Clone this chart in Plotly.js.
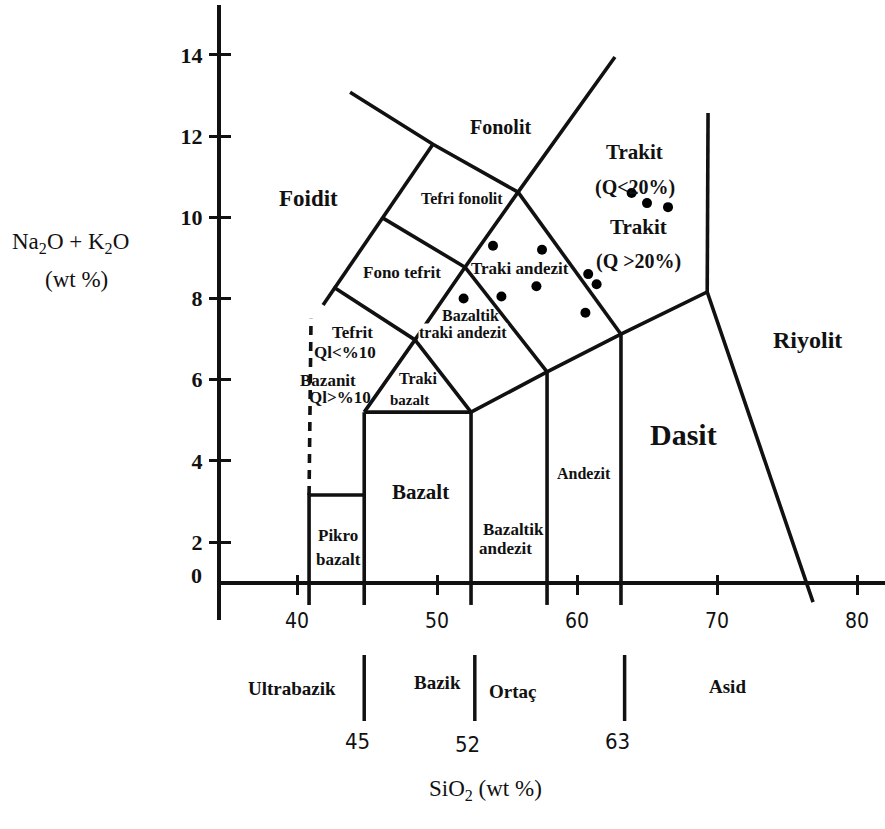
<!DOCTYPE html>
<html><head><meta charset="utf-8">
<script src="https://cdn.plot.ly/plotly-3.0.1.min.js"></script>
<style>html,body{margin:0;padding:0;background:#fff}#chart{width:885px;height:829px}</style>
</head><body><div id="chart"></div>
<script>
// ---------- data ----------
const xTickVals = [40, 50, 60, 70, 80];
const xTickText = ['40', '50', '60', '70', '80'];
const yTickVals = [2, 4, 6, 8, 10, 12, 14];
const yTickText = ['2', '4', '6', '8', '10', '12', '14'];
const yOriginLabel = '0';

const sampleSiO2   = [51.9, 54.0, 54.6, 57.1, 57.5, 60.6, 60.8, 61.4, 63.9, 65.0, 66.5];
const sampleAlkali = [8.0, 9.3, 8.05, 8.3, 9.2, 7.65, 8.6, 8.35, 10.6, 10.35, 10.25];

// field boundaries (SiO2, Na2O+K2O)
const pikroX = [40.86, 40.86, 44.8];           const pikroY = [0.45, 3.16, 3.16];
const line45X = [44.8, 44.8];                  const line45Y = [0.45, 5.2];
const bazaltTopX = [44.8, 52.43];              const bazaltTopY = [5.2, 5.2];
const trakiBazaltX = [44.8, 48.43, 52.43];     const trakiBazaltY = [5.2, 6.98, 5.2];
const line52X = [52.43, 52.43];                const line52Y = [0.45, 5.2];
const line57X = [57.86, 57.86];                const line57Y = [0.45, 6.19];
const line63X = [63.14, 63.14];                const line63Y = [0.45, 7.12];
const lowerChainX = [52.43, 57.86, 63.14, 69.3, 76.86];
const lowerChainY = [5.2, 6.19, 7.12, 8.16, 0.52];
const line69X = [69.3, 69.36];                 const line69Y = [8.16, 12.57];
const trakitBaseX = [55.79, 63.14];            const trakitBaseY = [10.62, 7.12];
const btaTaX = [52.0, 57.86];                  const btaTaY = [8.77, 6.19];
const taLeftX = [48.43, 52.0, 55.79, 62.71];   const taLeftY = [6.98, 8.77, 10.62, 13.95];
const fonolitBaseX = [43.79, 49.71, 55.79];    const fonolitBaseY = [13.08, 11.80, 10.62];
const foiditEdgeX = [41.86, 49.71];            const foiditEdgeY = [7.84, 11.80];
const tefritTopX = [42.6, 48.43];              const tefritTopY = [8.28, 6.98];
const fonoTefritTopX = [46.14, 52.0];          const fonoTefritTopY = [9.98, 8.77];
const dashed41X = [40.86, 41.0];               const dashed41Y = [3.16, 7.5];

const classBoundSiO2 = [44.8, 52.7, 63.4];
const classBoundText = ['45', '52', '63'];
const classNames = ['Ultrabazik', 'Bazik', 'Ortaç', 'Asid'];

const fieldNames = ['Foidit', 'Fonolit', 'Tefri fonolit', 'Fono tefrit', 'Traki andezit',
  'Bazaltik', 'traki andezit', 'Tefrit', 'Ql&lt;%10', 'Bazanit', 'Ql&gt;%10', 'Traki', 'bazalt',
  'Bazalt', 'Pikro', 'bazalt', 'Bazaltik', 'andezit', 'Andezit', 'Dasit', 'Riyolit',
  'Trakit', '(Q&lt;20%)', 'Trakit', '(Q &gt;20%)'];

// ---------- layout helpers ----------
const W = 885, H = 829, L = 221, R = 885, T = 5, B = 620;
const xRange = [34.57, 82.0];
const yRange = [0.079, 15.23];
const px2paperX = p => (p - L) / (R - L);
const px2paperY = p => (B - p) / (B - T);
const axisPos = (1 - yRange[0]) / (yRange[1] - yRange[0]);

const fieldPos = [[40.79,10.47],[54.5,12.22],[51.79,10.47],[47.5,8.63],[55.93,8.75],
  [52.36,7.59],[51.86,7.15],[43.93,7.17],[43.43,6.68],[42.21,5.99],[43.07,5.55],[48.64,6.04],[48.07,5.5],
  [48.79,3.23],[42.93,2.17],[42.93,1.58],[55.43,2.32],[54.86,1.83],[60.5,3.70],[67.64,4.64],[76.43,6.98],
  [64.14,11.6],[64.14,10.74],[64.36,9.76],[64.36,8.9]];
const fieldSize = [23,20,16,17,17,16,16,17,17,17,17,16,15,21,17,17,17,17,16,30,24,21,20,21,20];
const fieldBg = [0,0,0,0,0,0,1,0,0,0,0,0,0,0,0,0,0,0,0,0,0,0,0,0,0];

const SERIF = 'Liberation Serif, Times New Roman, serif';
const NARROW = 'DejaVu Sans Condensed, Liberation Sans Narrow, Liberation Sans, sans-serif';
const LC = '#111';

function seg(x, y, dash) {
  return {x: x, y: y, type: 'scatter', mode: 'lines', hoverinfo: 'skip', showlegend: false,
    line: {color: LC, width: 3.6, dash: dash || 'solid'}};
}
const traces = [
  seg(pikroX, pikroY), seg(line45X, line45Y), seg(bazaltTopX, bazaltTopY), seg(trakiBazaltX, trakiBazaltY),
  seg(line52X, line52Y), seg(line57X, line57Y), seg(line63X, line63Y), seg(lowerChainX, lowerChainY),
  seg(line69X, line69Y), seg(trakitBaseX, trakitBaseY), seg(btaTaX, btaTaY), seg(taLeftX, taLeftY),
  seg(fonolitBaseX, fonolitBaseY), seg(foiditEdgeX, foiditEdgeY), seg(tefritTopX, tefritTopY),
  seg(fonoTefritTopX, fonoTefritTopY), seg(dashed41X, dashed41Y, '9px,7px'),
  {x: sampleSiO2, y: sampleAlkali, type: 'scatter', mode: 'markers', showlegend: false, hoverinfo: 'x+y',
   marker: {color: '#000', size: 10}},
  {x: [null], y: [null], xaxis: 'x2', yaxis: 'y2', type: 'scatter', mode: 'markers', showlegend: false}
];

function ann(o) { return Object.assign({showarrow: false, xanchor: 'center', yanchor: 'middle'}, o); }
const annotations = [];
fieldNames.forEach((t, i) => {
  annotations.push(ann({x: fieldPos[i][0], y: fieldPos[i][1], xref: 'x', yref: 'y', text: '<b>' + t + '</b>',
    font: {family: SERIF, size: fieldSize[i], color: '#111'},
    bgcolor: fieldBg[i] ? '#fff' : 'rgba(0,0,0,0)', borderpad: 0}));
});
// origin label on y axis
annotations.push(ann({x: px2paperX(196), y: 1.18, xref: 'paper', yref: 'y', text: '<b>' + yOriginLabel + '</b>',
  font: {family: SERIF, size: 22, color: '#111'}}));
// axis titles
annotations.push(ann({x: px2paperX(70), y: px2paperY(243), xref: 'paper', yref: 'paper',
  text: 'Na<sub>2</sub>O + K<sub>2</sub>O', font: {family: SERIF, size: 23, color: '#111'}}));
annotations.push(ann({x: px2paperX(76), y: px2paperY(279), xref: 'paper', yref: 'paper',
  text: '(wt %)', font: {family: SERIF, size: 23, color: '#111'}}));
annotations.push(ann({x: px2paperX(485), y: px2paperY(790), xref: 'paper', yref: 'paper',
  text: 'SiO<sub>2</sub> (wt %)', font: {family: SERIF, size: 23, color: '#111'}}));
// class names below
const classPx = [[292, 688], [437, 682], [512, 691], [727, 686]];
classNames.forEach((t, i) => annotations.push(ann({x: px2paperX(classPx[i][0]), y: px2paperY(classPx[i][1]),
  xref: 'paper', yref: 'paper', text: '<b>' + t + '</b>', font: {family: SERIF, size: 19, color: '#111'}})));
const numPy = [741, 745, 741];
classBoundText.forEach((t, i) => annotations.push(ann({x: classBoundSiO2[i] - 0.5, y: px2paperY(numPy[i]),
  xref: 'x', yref: 'paper', text: t, font: {family: NARROW, size: 22, color: '#111'}})));

const shapes = classBoundSiO2.map(v => ({type: 'line', xref: 'x', yref: 'paper', x0: v, x1: v,
  y0: px2paperY(655), y1: px2paperY(721), line: {color: LC, width: 3.5}}));

const axCommon = {showgrid: false, zeroline: false};
const layout = {
  width: W, height: H, margin: {l: L, r: W - R, t: T, b: H - B, pad: 0},
  paper_bgcolor: '#fff', plot_bgcolor: '#fff', showlegend: false,
  xaxis: Object.assign({}, axCommon, {range: xRange, anchor: 'free', position: axisPos,
    showline: true, linewidth: 4, linecolor: LC, ticks: 'outside', ticklen: 10, tickwidth: 3, tickcolor: LC,
    tickvals: xTickVals, ticktext: xTickText, ticklabelstandoff: 8,
    tickfont: {family: NARROW, size: 21, color: '#111'}}),
  xaxis2: Object.assign({}, axCommon, {overlaying: 'x', matches: 'x', range: xRange, anchor: 'free', position: axisPos,
    showline: false, ticks: 'inside', ticklen: 8, tickwidth: 3, tickcolor: LC, tickvals: xTickVals,
    showticklabels: false}),
  yaxis: Object.assign({}, axCommon, {range: yRange, showline: true, linewidth: 4, linecolor: LC,
    ticks: 'outside', ticklen: 8, tickwidth: 3, tickcolor: LC, tickvals: yTickVals, ticktext: yTickText,
    ticklabelstandoff: 2, tickfont: {family: SERIF, size: 22, color: '#111', weight: 'bold'}}),
  yaxis2: Object.assign({}, axCommon, {overlaying: 'y', matches: 'y', range: yRange, anchor: 'x2', side: 'left',
    showline: false, ticks: 'inside', ticklen: 10, tickwidth: 3, tickcolor: LC, tickvals: yTickVals,
    showticklabels: false}),
  annotations: annotations, shapes: shapes
};
Plotly.newPlot('chart', traces, layout, {displayModeBar: false, staticPlot: true});
</script></body></html>
